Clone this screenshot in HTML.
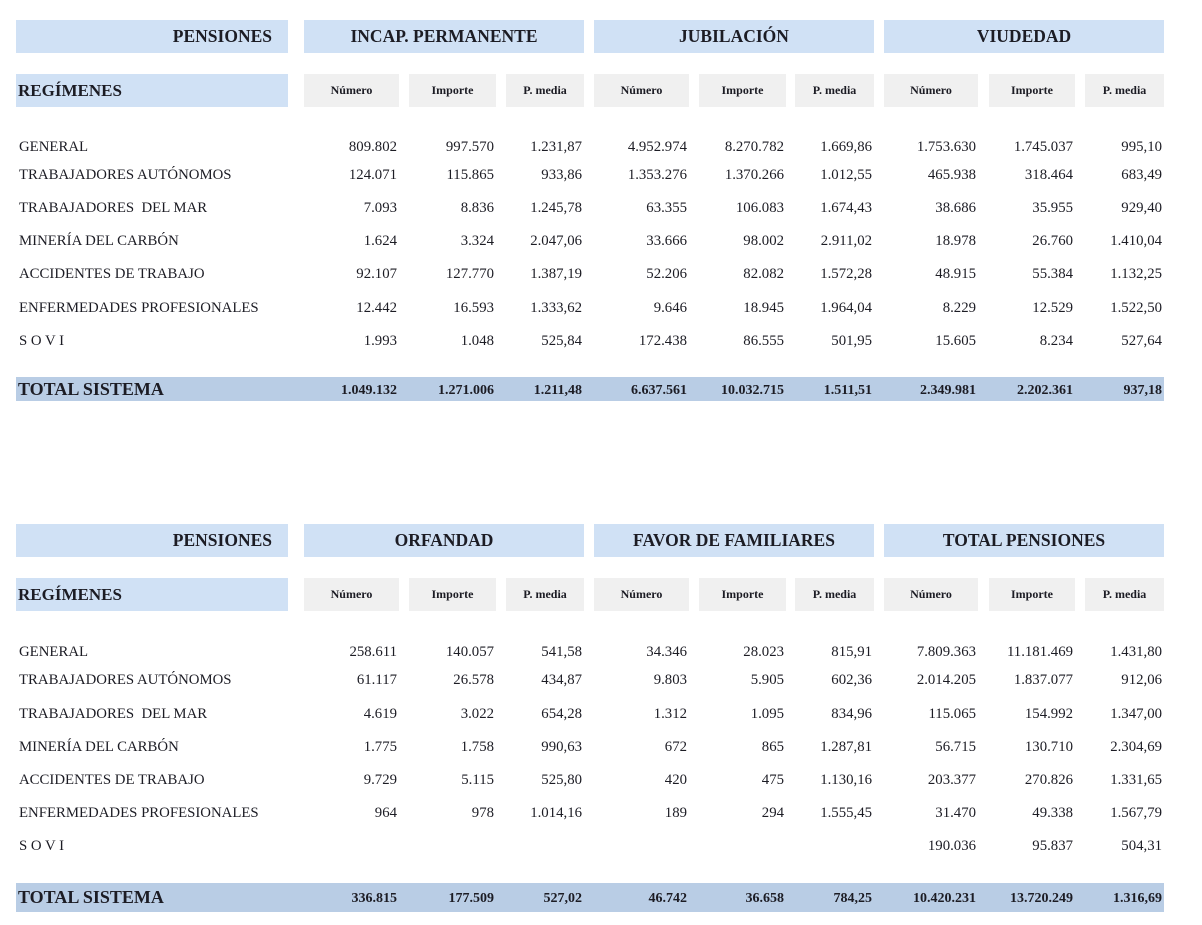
<!DOCTYPE html>
<html>
<head>
<meta charset="utf-8">
<style>
  html,body{margin:0;padding:0;background:#fff;}
  body{width:1202px;height:925px;position:relative;overflow:hidden;font-family:"Liberation Serif",serif;color:#1c1c24;}
  .b{position:absolute;}
  .hb{background:#d0e1f5;}
  .sb{background:#f0f0f0;}
  .tb{background:#b9cde5;}
  .h{font-weight:bold;font-size:17.5px;text-align:center;line-height:33px;height:33px;}
  .s{font-weight:bold;font-size:12px;text-align:center;line-height:33px;height:33px;}
  .r{font-size:14.8px;line-height:20px;height:20px;white-space:nowrap;}
  .n{text-align:right;box-sizing:border-box;padding-right:2px;}
  .tt{font-weight:bold;font-size:14px;}
  .t1 .r{margin-top:1px;}
</style>
</head>
<body>

<!-- ============ TABLE 1 ============ -->
<div class="b hb h" style="left:16px;top:20px;width:272px;text-align:right;box-sizing:border-box;padding-right:16px;font-size:17.5px;">PENSIONES</div>
<div class="b hb h" style="left:304px;top:20px;width:280px;">INCAP. PERMANENTE</div>
<div class="b hb h" style="left:594px;top:20px;width:280px;">JUBILACIÓN</div>
<div class="b hb h" style="left:884px;top:20px;width:280px;">VIUDEDAD</div>

<div class="b hb h" style="left:16px;top:74px;width:272px;text-align:left;box-sizing:border-box;padding-left:2px;font-size:17px;">REGÍMENES</div>
<div class="b sb s" style="left:304px;top:74px;width:95px;">Número</div>
<div class="b sb s" style="left:409px;top:74px;width:87px;">Importe</div>
<div class="b sb s" style="left:506px;top:74px;width:78px;">P. media</div>
<div class="b sb s" style="left:594px;top:74px;width:95px;">Número</div>
<div class="b sb s" style="left:699px;top:74px;width:87px;">Importe</div>
<div class="b sb s" style="left:795px;top:74px;width:79px;">P. media</div>
<div class="b sb s" style="left:884px;top:74px;width:94px;">Número</div>
<div class="b sb s" style="left:989px;top:74px;width:86px;">Importe</div>
<div class="b sb s" style="left:1085px;top:74px;width:79px;">P. media</div>

<div class="t1">
<!-- rows table 1 -->
<div class="b r" style="left:19px;top:136px;">GENERAL</div>
<div class="b r" style="left:19px;top:164px;">TRABAJADORES AUTÓNOMOS</div>
<div class="b r" style="left:19px;top:197px;">TRABAJADORES&nbsp; DEL MAR</div>
<div class="b r" style="left:19px;top:230px;">MINERÍA DEL CARBÓN</div>
<div class="b r" style="left:19px;top:263px;">ACCIDENTES DE TRABAJO</div>
<div class="b r" style="left:19px;top:297px;">ENFERMEDADES PROFESIONALES</div>
<div class="b r" style="left:19px;top:330px;">S O V I</div>

<!-- col data table 1 -->
<div class="b r n" style="left:304px;top:136px;width:95px;">809.802</div>
<div class="b r n" style="left:409px;top:136px;width:87px;">997.570</div>
<div class="b r n" style="left:506px;top:136px;width:78px;">1.231,87</div>
<div class="b r n" style="left:594px;top:136px;width:95px;">4.952.974</div>
<div class="b r n" style="left:699px;top:136px;width:87px;">8.270.782</div>
<div class="b r n" style="left:795px;top:136px;width:79px;">1.669,86</div>
<div class="b r n" style="left:884px;top:136px;width:94px;">1.753.630</div>
<div class="b r n" style="left:989px;top:136px;width:86px;">1.745.037</div>
<div class="b r n" style="left:1085px;top:136px;width:79px;">995,10</div>

<div class="b r n" style="left:304px;top:164px;width:95px;">124.071</div>
<div class="b r n" style="left:409px;top:164px;width:87px;">115.865</div>
<div class="b r n" style="left:506px;top:164px;width:78px;">933,86</div>
<div class="b r n" style="left:594px;top:164px;width:95px;">1.353.276</div>
<div class="b r n" style="left:699px;top:164px;width:87px;">1.370.266</div>
<div class="b r n" style="left:795px;top:164px;width:79px;">1.012,55</div>
<div class="b r n" style="left:884px;top:164px;width:94px;">465.938</div>
<div class="b r n" style="left:989px;top:164px;width:86px;">318.464</div>
<div class="b r n" style="left:1085px;top:164px;width:79px;">683,49</div>

<div class="b r n" style="left:304px;top:197px;width:95px;">7.093</div>
<div class="b r n" style="left:409px;top:197px;width:87px;">8.836</div>
<div class="b r n" style="left:506px;top:197px;width:78px;">1.245,78</div>
<div class="b r n" style="left:594px;top:197px;width:95px;">63.355</div>
<div class="b r n" style="left:699px;top:197px;width:87px;">106.083</div>
<div class="b r n" style="left:795px;top:197px;width:79px;">1.674,43</div>
<div class="b r n" style="left:884px;top:197px;width:94px;">38.686</div>
<div class="b r n" style="left:989px;top:197px;width:86px;">35.955</div>
<div class="b r n" style="left:1085px;top:197px;width:79px;">929,40</div>

<div class="b r n" style="left:304px;top:230px;width:95px;">1.624</div>
<div class="b r n" style="left:409px;top:230px;width:87px;">3.324</div>
<div class="b r n" style="left:506px;top:230px;width:78px;">2.047,06</div>
<div class="b r n" style="left:594px;top:230px;width:95px;">33.666</div>
<div class="b r n" style="left:699px;top:230px;width:87px;">98.002</div>
<div class="b r n" style="left:795px;top:230px;width:79px;">2.911,02</div>
<div class="b r n" style="left:884px;top:230px;width:94px;">18.978</div>
<div class="b r n" style="left:989px;top:230px;width:86px;">26.760</div>
<div class="b r n" style="left:1085px;top:230px;width:79px;">1.410,04</div>

<div class="b r n" style="left:304px;top:263px;width:95px;">92.107</div>
<div class="b r n" style="left:409px;top:263px;width:87px;">127.770</div>
<div class="b r n" style="left:506px;top:263px;width:78px;">1.387,19</div>
<div class="b r n" style="left:594px;top:263px;width:95px;">52.206</div>
<div class="b r n" style="left:699px;top:263px;width:87px;">82.082</div>
<div class="b r n" style="left:795px;top:263px;width:79px;">1.572,28</div>
<div class="b r n" style="left:884px;top:263px;width:94px;">48.915</div>
<div class="b r n" style="left:989px;top:263px;width:86px;">55.384</div>
<div class="b r n" style="left:1085px;top:263px;width:79px;">1.132,25</div>

<div class="b r n" style="left:304px;top:297px;width:95px;">12.442</div>
<div class="b r n" style="left:409px;top:297px;width:87px;">16.593</div>
<div class="b r n" style="left:506px;top:297px;width:78px;">1.333,62</div>
<div class="b r n" style="left:594px;top:297px;width:95px;">9.646</div>
<div class="b r n" style="left:699px;top:297px;width:87px;">18.945</div>
<div class="b r n" style="left:795px;top:297px;width:79px;">1.964,04</div>
<div class="b r n" style="left:884px;top:297px;width:94px;">8.229</div>
<div class="b r n" style="left:989px;top:297px;width:86px;">12.529</div>
<div class="b r n" style="left:1085px;top:297px;width:79px;">1.522,50</div>

<div class="b r n" style="left:304px;top:330px;width:95px;">1.993</div>
<div class="b r n" style="left:409px;top:330px;width:87px;">1.048</div>
<div class="b r n" style="left:506px;top:330px;width:78px;">525,84</div>
<div class="b r n" style="left:594px;top:330px;width:95px;">172.438</div>
<div class="b r n" style="left:699px;top:330px;width:87px;">86.555</div>
<div class="b r n" style="left:795px;top:330px;width:79px;">501,95</div>
<div class="b r n" style="left:884px;top:330px;width:94px;">15.605</div>
<div class="b r n" style="left:989px;top:330px;width:86px;">8.234</div>
<div class="b r n" style="left:1085px;top:330px;width:79px;">527,64</div>
</div>

<!-- total 1 -->
<div class="b tb" style="left:16px;top:377px;width:1148px;height:24px;"></div>
<div class="b r" style="left:18px;top:379px;font-weight:bold;font-size:18px;">TOTAL SISTEMA</div>
<div class="b r n tt" style="left:304px;top:381px;width:95px;">1.049.132</div>
<div class="b r n tt" style="left:409px;top:381px;width:87px;">1.271.006</div>
<div class="b r n tt" style="left:506px;top:381px;width:78px;">1.211,48</div>
<div class="b r n tt" style="left:594px;top:381px;width:95px;">6.637.561</div>
<div class="b r n tt" style="left:699px;top:381px;width:87px;">10.032.715</div>
<div class="b r n tt" style="left:795px;top:381px;width:79px;">1.511,51</div>
<div class="b r n tt" style="left:884px;top:381px;width:94px;">2.349.981</div>
<div class="b r n tt" style="left:989px;top:381px;width:86px;">2.202.361</div>
<div class="b r n tt" style="left:1085px;top:381px;width:79px;">937,18</div>

<!-- ============ TABLE 2 ============ -->
<div class="b hb h" style="left:16px;top:524px;width:272px;text-align:right;box-sizing:border-box;padding-right:16px;font-size:17.5px;">PENSIONES</div>
<div class="b hb h" style="left:304px;top:524px;width:280px;">ORFANDAD</div>
<div class="b hb h" style="left:594px;top:524px;width:280px;">FAVOR DE FAMILIARES</div>
<div class="b hb h" style="left:884px;top:524px;width:280px;">TOTAL PENSIONES</div>

<div class="b hb h" style="left:16px;top:578px;width:272px;text-align:left;box-sizing:border-box;padding-left:2px;font-size:17px;">REGÍMENES</div>
<div class="b sb s" style="left:304px;top:578px;width:95px;">Número</div>
<div class="b sb s" style="left:409px;top:578px;width:87px;">Importe</div>
<div class="b sb s" style="left:506px;top:578px;width:78px;">P. media</div>
<div class="b sb s" style="left:594px;top:578px;width:95px;">Número</div>
<div class="b sb s" style="left:699px;top:578px;width:87px;">Importe</div>
<div class="b sb s" style="left:795px;top:578px;width:79px;">P. media</div>
<div class="b sb s" style="left:884px;top:578px;width:94px;">Número</div>
<div class="b sb s" style="left:989px;top:578px;width:86px;">Importe</div>
<div class="b sb s" style="left:1085px;top:578px;width:79px;">P. media</div>

<div class="t1">
<div class="b r" style="left:19px;top:641px;">GENERAL</div>
<div class="b r" style="left:19px;top:669px;">TRABAJADORES AUTÓNOMOS</div>
<div class="b r" style="left:19px;top:703px;">TRABAJADORES&nbsp; DEL MAR</div>
<div class="b r" style="left:19px;top:736px;">MINERÍA DEL CARBÓN</div>
<div class="b r" style="left:19px;top:769px;">ACCIDENTES DE TRABAJO</div>
<div class="b r" style="left:19px;top:802px;">ENFERMEDADES PROFESIONALES</div>
<div class="b r" style="left:19px;top:835px;">S O V I</div>

<div class="b r n" style="left:304px;top:641px;width:95px;">258.611</div>
<div class="b r n" style="left:409px;top:641px;width:87px;">140.057</div>
<div class="b r n" style="left:506px;top:641px;width:78px;">541,58</div>
<div class="b r n" style="left:594px;top:641px;width:95px;">34.346</div>
<div class="b r n" style="left:699px;top:641px;width:87px;">28.023</div>
<div class="b r n" style="left:795px;top:641px;width:79px;">815,91</div>
<div class="b r n" style="left:884px;top:641px;width:94px;">7.809.363</div>
<div class="b r n" style="left:989px;top:641px;width:86px;">11.181.469</div>
<div class="b r n" style="left:1085px;top:641px;width:79px;">1.431,80</div>

<div class="b r n" style="left:304px;top:669px;width:95px;">61.117</div>
<div class="b r n" style="left:409px;top:669px;width:87px;">26.578</div>
<div class="b r n" style="left:506px;top:669px;width:78px;">434,87</div>
<div class="b r n" style="left:594px;top:669px;width:95px;">9.803</div>
<div class="b r n" style="left:699px;top:669px;width:87px;">5.905</div>
<div class="b r n" style="left:795px;top:669px;width:79px;">602,36</div>
<div class="b r n" style="left:884px;top:669px;width:94px;">2.014.205</div>
<div class="b r n" style="left:989px;top:669px;width:86px;">1.837.077</div>
<div class="b r n" style="left:1085px;top:669px;width:79px;">912,06</div>

<div class="b r n" style="left:304px;top:703px;width:95px;">4.619</div>
<div class="b r n" style="left:409px;top:703px;width:87px;">3.022</div>
<div class="b r n" style="left:506px;top:703px;width:78px;">654,28</div>
<div class="b r n" style="left:594px;top:703px;width:95px;">1.312</div>
<div class="b r n" style="left:699px;top:703px;width:87px;">1.095</div>
<div class="b r n" style="left:795px;top:703px;width:79px;">834,96</div>
<div class="b r n" style="left:884px;top:703px;width:94px;">115.065</div>
<div class="b r n" style="left:989px;top:703px;width:86px;">154.992</div>
<div class="b r n" style="left:1085px;top:703px;width:79px;">1.347,00</div>

<div class="b r n" style="left:304px;top:736px;width:95px;">1.775</div>
<div class="b r n" style="left:409px;top:736px;width:87px;">1.758</div>
<div class="b r n" style="left:506px;top:736px;width:78px;">990,63</div>
<div class="b r n" style="left:594px;top:736px;width:95px;">672</div>
<div class="b r n" style="left:699px;top:736px;width:87px;">865</div>
<div class="b r n" style="left:795px;top:736px;width:79px;">1.287,81</div>
<div class="b r n" style="left:884px;top:736px;width:94px;">56.715</div>
<div class="b r n" style="left:989px;top:736px;width:86px;">130.710</div>
<div class="b r n" style="left:1085px;top:736px;width:79px;">2.304,69</div>

<div class="b r n" style="left:304px;top:769px;width:95px;">9.729</div>
<div class="b r n" style="left:409px;top:769px;width:87px;">5.115</div>
<div class="b r n" style="left:506px;top:769px;width:78px;">525,80</div>
<div class="b r n" style="left:594px;top:769px;width:95px;">420</div>
<div class="b r n" style="left:699px;top:769px;width:87px;">475</div>
<div class="b r n" style="left:795px;top:769px;width:79px;">1.130,16</div>
<div class="b r n" style="left:884px;top:769px;width:94px;">203.377</div>
<div class="b r n" style="left:989px;top:769px;width:86px;">270.826</div>
<div class="b r n" style="left:1085px;top:769px;width:79px;">1.331,65</div>

<div class="b r n" style="left:304px;top:802px;width:95px;">964</div>
<div class="b r n" style="left:409px;top:802px;width:87px;">978</div>
<div class="b r n" style="left:506px;top:802px;width:78px;">1.014,16</div>
<div class="b r n" style="left:594px;top:802px;width:95px;">189</div>
<div class="b r n" style="left:699px;top:802px;width:87px;">294</div>
<div class="b r n" style="left:795px;top:802px;width:79px;">1.555,45</div>
<div class="b r n" style="left:884px;top:802px;width:94px;">31.470</div>
<div class="b r n" style="left:989px;top:802px;width:86px;">49.338</div>
<div class="b r n" style="left:1085px;top:802px;width:79px;">1.567,79</div>

<div class="b r n" style="left:884px;top:835px;width:94px;">190.036</div>
<div class="b r n" style="left:989px;top:835px;width:86px;">95.837</div>
<div class="b r n" style="left:1085px;top:835px;width:79px;">504,31</div>
</div>

<!-- total 2 -->
<div class="b tb" style="left:16px;top:883px;width:1148px;height:29px;"></div>
<div class="b r" style="left:18px;top:887px;font-weight:bold;font-size:18px;">TOTAL SISTEMA</div>
<div class="b r n tt" style="left:304px;top:889px;width:95px;">336.815</div>
<div class="b r n tt" style="left:409px;top:889px;width:87px;">177.509</div>
<div class="b r n tt" style="left:506px;top:889px;width:78px;">527,02</div>
<div class="b r n tt" style="left:594px;top:889px;width:95px;">46.742</div>
<div class="b r n tt" style="left:699px;top:889px;width:87px;">36.658</div>
<div class="b r n tt" style="left:795px;top:889px;width:79px;">784,25</div>
<div class="b r n tt" style="left:884px;top:889px;width:94px;">10.420.231</div>
<div class="b r n tt" style="left:989px;top:889px;width:86px;">13.720.249</div>
<div class="b r n tt" style="left:1085px;top:889px;width:79px;">1.316,69</div>

</body>
</html>
